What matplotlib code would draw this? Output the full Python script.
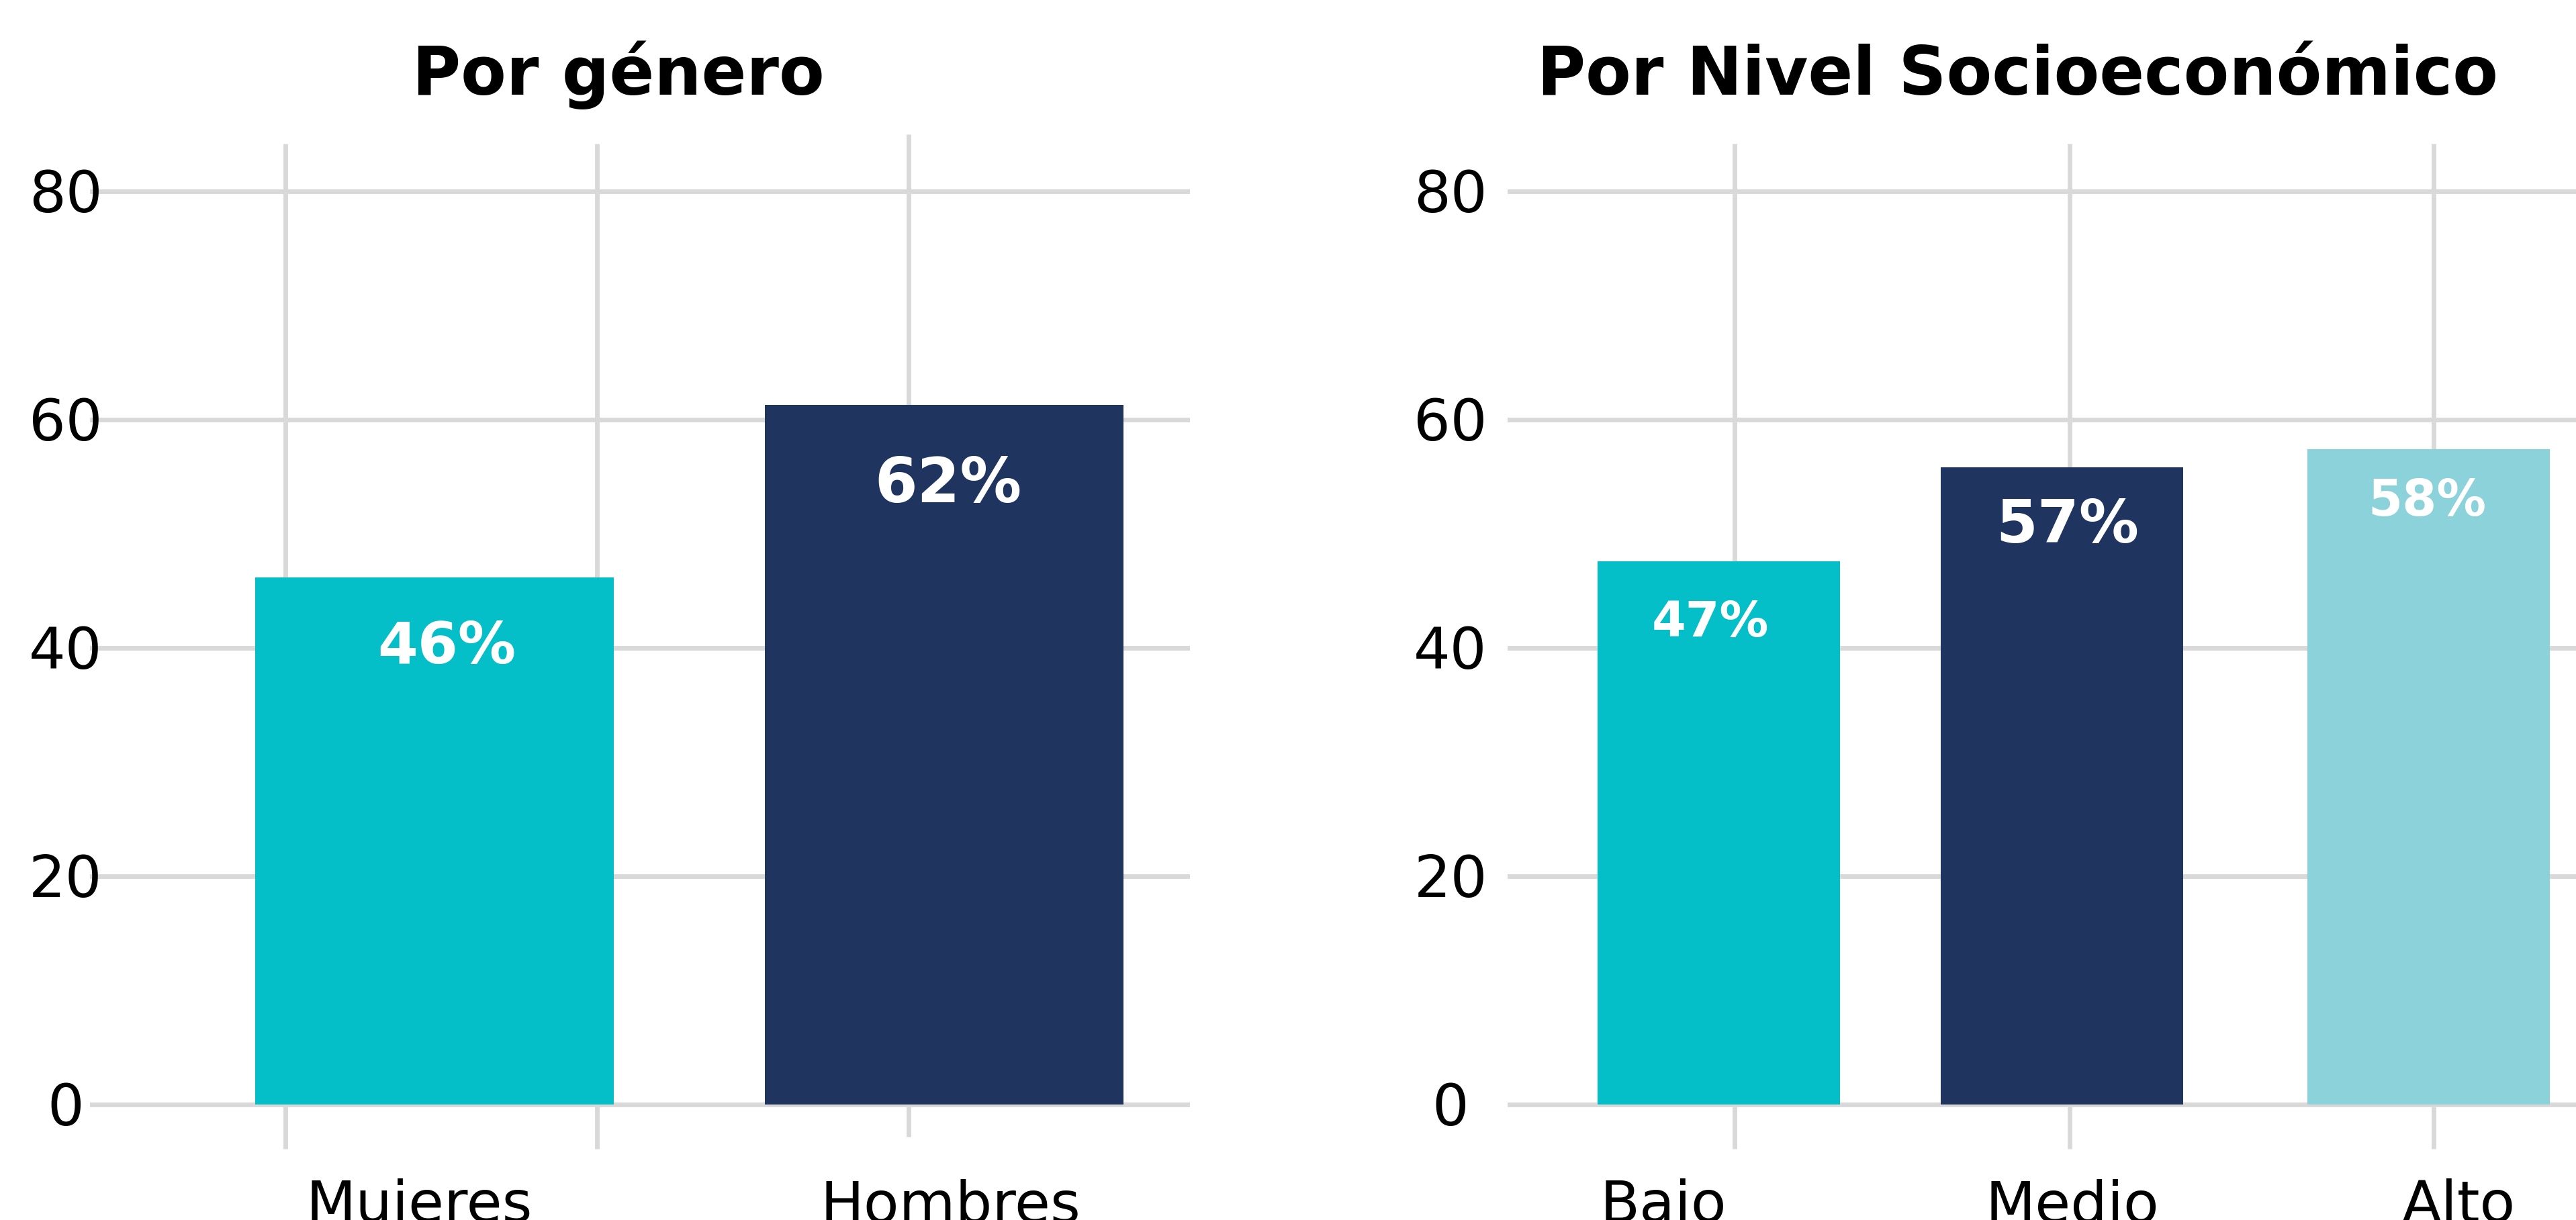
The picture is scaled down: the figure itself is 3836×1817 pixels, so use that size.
import matplotlib
matplotlib.use("Agg")
import matplotlib.pyplot as plt
from matplotlib.transforms import blended_transform_factory

# ---------------- data ----------------
gender_categories = ["Mujeres", "Hombres"]
gender_values = [46.2, 61.3]
gender_labels = ["46%", "62%"]

nse_categories = ["Bajo", "Medio", "Alto"]
nse_values = [47.6, 55.8, 57.4]
nse_labels = ["47%", "57%", "58%"]

y_ticks = [0, 20, 40, 60, 80]
titles = ["Por género", "Por Nivel Socioeconómico"]

# ---------------- style / layout ----------------
W, H = 3837, 1817
TEAL, NAVY, LIGHT = "#04BEC8", "#1F3560", "#8BD2DA"
GRID = "#D9D9D9"
FONT = "DejaVu Sans"

fig = plt.figure(figsize=(W / 100, H / 100), dpi=100)
fig.patch.set_facecolor("white")


def px_axes(x0, x1, y_top, y_bot):
    return fig.add_axes([x0 / W, 1 - y_bot / H, (x1 - x0) / W, (y_bot - y_top) / H])


panels = [
    dict(
        rect=(134, 1772, 183, 1713),
        xlim=(-0.676, 1.482),
        pos=[0, 1],
        width=0.704,
        cats=gender_categories,
        vals=gender_values,
        labels=gender_labels,
        colors=[TEAL, NAVY],
        vgrid=[(-0.292, -3.9, 84.2), (0.319, -3.9, 84.2), (0.930, -2.8, 85.0)],
        label_dx=[0.024, 0.008],
        label_drop=[7.55, 8.54],
        label_size=[62, 66],
        cat_x=[-0.030, 1.012],
        ytick_x=98,
        title_x=921,
        title=titles[0],
    ),
    dict(
        rect=(2245, 3837, 183, 1713),
        xlim=(-0.615, 2.5),
        pos=[0, 1, 2.068],
        width=0.706,
        cats=nse_categories,
        vals=nse_values,
        labels=nse_labels,
        colors=[TEAL, NAVY, LIGHT],
        vgrid=[(0.046, -3.9, 84.2), (1.022, -3.9, 84.2), (2.083, -3.9, 84.2)],
        label_dx=[-0.025, 0.016, -0.004],
        label_drop=[6.6, 6.56, 5.8],
        label_size=[52.5, 64, 53],
        cat_x=[-0.161, 1.031, 2.155],
        ytick_x=2160,
        title_x=3005,
        title=titles[1],
    ),
]

for p in panels:
    ax = px_axes(*p["rect"])
    ax.set_xlim(*p["xlim"])
    ax.set_ylim(-4, 86)
    ax.axis("off")

    for t in y_ticks:
        ax.axhline(t, color=GRID, lw=5, zorder=1)
    for xg, y0, y1 in p["vgrid"]:
        ax.vlines(xg, y0, y1, color=GRID, lw=5, zorder=1)

    ax.bar(p["pos"], p["vals"], width=p["width"], color=p["colors"],
           linewidth=0, zorder=2)

    for x, v, lab, dx, drop, fs in zip(p["pos"], p["vals"], p["labels"],
                                       p["label_dx"], p["label_drop"], p["label_size"]):
        ax.text(x + dx, v - drop, lab, ha="center", va="baseline", color="white",
                fontsize=fs, fontweight="bold", family=FONT, zorder=3)

    # y tick labels (centered horizontally at a fixed pixel x)
    tr_y = blended_transform_factory(fig.transFigure, ax.transData)
    for t in y_ticks:
        ax.text(p["ytick_x"] / W, t - 1.85, str(t), transform=tr_y, ha="center",
                va="baseline", fontsize=62, family=FONT, color="black", clip_on=False)

    # category labels (baseline just below the figure edge, as in the reference)
    tr_x = blended_transform_factory(ax.transData, fig.transFigure)
    for cx, c in zip(p["cat_x"], p["cats"]):
        ax.text(cx, 1 - 1820 / H, c, transform=tr_x, ha="center", va="baseline",
                fontsize=62, family=FONT, color="black", clip_on=False)

    fig.text(p["title_x"] / W, 1 - 141 / H, p["title"], ha="center", va="baseline",
             fontsize=71, fontweight="bold", family=FONT, color="black")

fig.savefig("out.png", dpi=100, facecolor="white")
